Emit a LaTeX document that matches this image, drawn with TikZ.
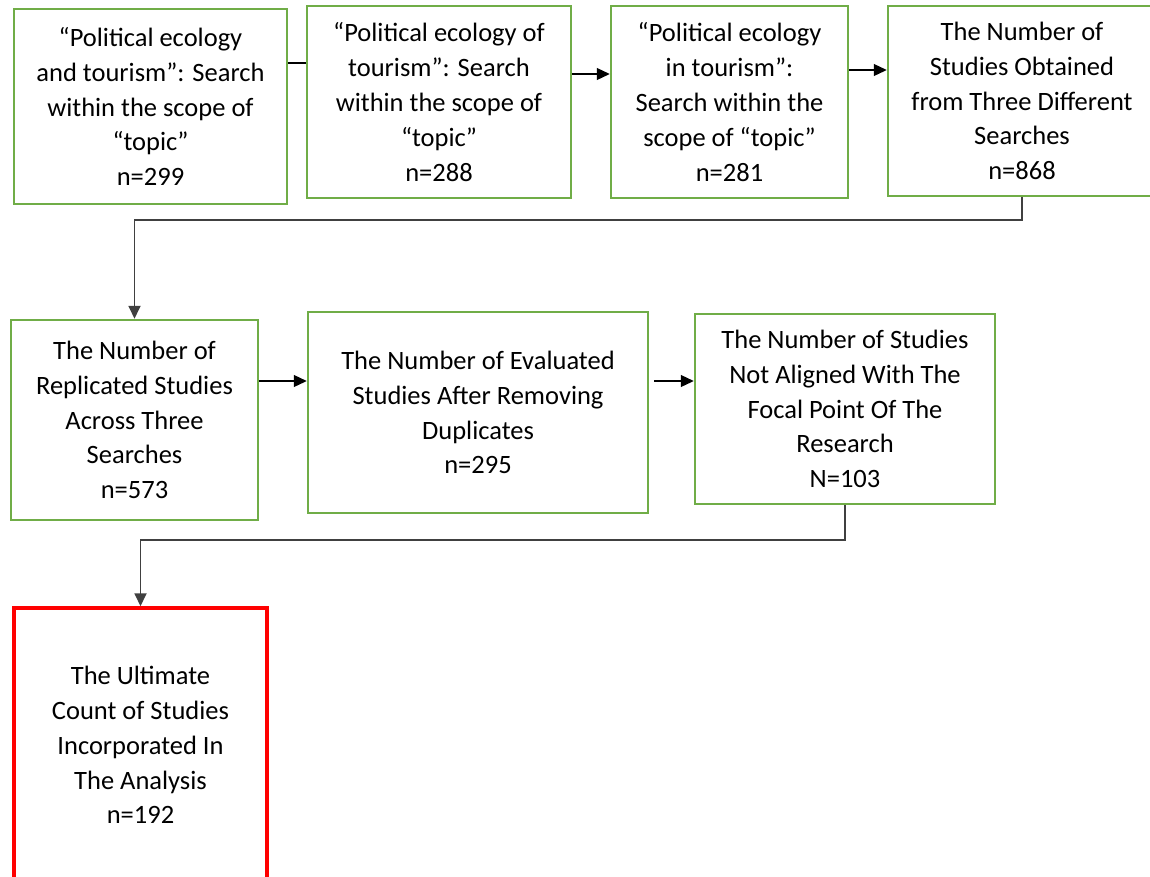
\documentclass[tikz,border=0pt]{standalone}
\usepackage{fontspec}
\setmainfont{Carlito}
\usetikzlibrary{arrows.meta}
\definecolor{boxgreen}{RGB}{112,173,71}
\definecolor{boxred}{RGB}{255,0,0}
\definecolor{linegray}{RGB}{64,64,64}
\begin{document}
\begin{tikzpicture}[x=1pt,y=-1pt,
  box/.style={draw=boxgreen,line width=2.5pt,inner sep=0pt,align=center,
    font=\fontsize{26.5}{34.8}\selectfont},
  redbox/.style={box,draw=boxred,line width=3.5pt},
  conn/.style={draw=black,line width=1.2pt},
  arr/.style={conn,-{Triangle[length=13pt,width=12pt]}},
  longconn/.style={draw=linegray,line width=1.8pt,-{Triangle[length=13pt,width=12pt]}}]
\useasboundingbox (0,0) rectangle (1150,876);

\node[box,minimum width=273pt,minimum height=195pt] (b1) at (150.5,106.5)
  {“Political ecology\\and tourism”: Search\\within the scope of\\“topic”\\n=299};
\node[box,minimum width=264pt,minimum height=192pt] (b2) at (439,102)
  {“Political ecology of\\tourism”: Search\\within the scope of\\“topic”\\n=288};
\node[box,minimum width=237pt,minimum height=192pt] (b3) at (729.5,102)
  {“Political ecology\\in tourism”:\\Search within the\\scope of “topic”\\n=281};
\node[box,minimum width=268pt,minimum height=190pt] (b4) at (1022,101)
  {The Number of\\Studies Obtained\\from Three Different\\Searches\\n=868};

\node[box,minimum width=247pt,minimum height=200pt] (b5) at (134.5,420)
  {The Number of\\Replicated Studies\\Across Three\\Searches\\n=573};
\node[box,minimum width=340pt,minimum height=201pt] (b6) at (478,412.5)
  {The Number of Evaluated\\Studies After Removing\\Duplicates\\n=295};
\node[box,minimum width=300pt,minimum height=190pt] (b7) at (845,409)
  {The Number of Studies\\Not Aligned With The\\Focal Point Of The\\Research\\N=103};

\node[redbox,minimum width=253pt,minimum height=274pt] (b8) at (140.5,745)
  {The Ultimate\\Count of Studies\\Incorporated In\\The Analysis\\n=192};

% top row connectors
\draw[conn] (b1.east |- 0,63) -- (b2.west |- 0,63);
\draw[arr] (b2.east |- 0,74) -- (b3.west |- 0,74);
\draw[arr] (b3.east |- 0,70) -- (b4.west |- 0,70);

% row 1 to row 2
\draw[longconn] (b4.south) -- (b4.south |- 0,220) -| (b5.north);

% middle row connectors
\draw[arr] (b5.east |- 0,381) -- (b6.west |- 0,381);
\draw[arr] ([xshift=5pt]b6.east |- 0,381) -- (b7.west |- 0,381);

% row 2 to final
\draw[longconn] (b7.south) -- (b7.south |- 0,540) -| (b8.north);
\end{tikzpicture}
\end{document}
